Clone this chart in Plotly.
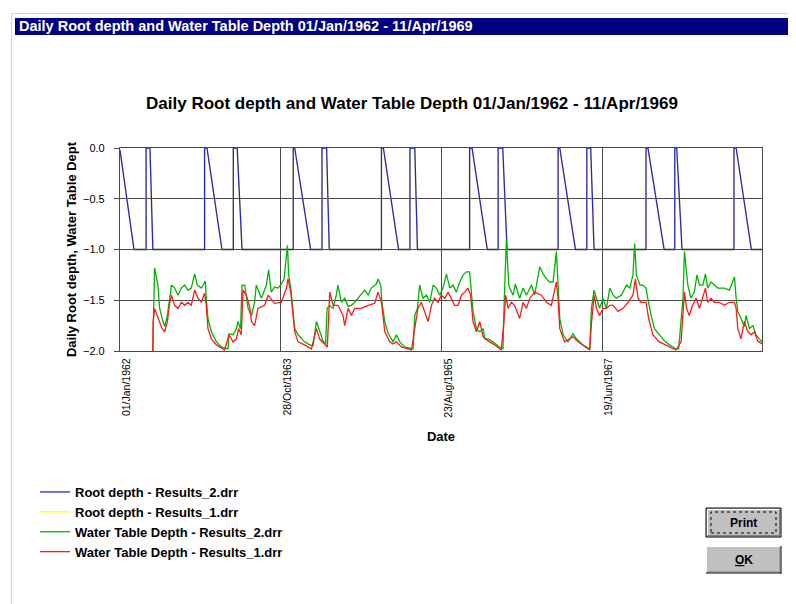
import pandas as pd
import plotly.graph_objects as go

START = "1962-01-01"
END = "1969-04-11"

# X ticks
tick_dates = ["1962-01-01", "1963-10-28", "1965-08-23", "1967-06-19"]
tick_labels = ["01/Jan/1962", "28/Oct/1963", "23/Aug/1965", "19/Jun/1967"]

# Root depth - Results_2 (days since 01/Jan/1962, metres)
root2_days = [0, 58, 108, 108, 124, 136, 350, 350, 360, 422, 469, 469, 485, 505,
              717, 717, 723, 789, 836, 836, 855, 866, 1082, 1082, 1090, 1153,
              1200, 1200, 1220, 1231, 1447, 1447, 1457, 1520, 1565, 1565, 1584, 1602,
              1813, 1813, 1820, 1885, 1932, 1932, 1948, 1962, 2177, 2177, 2185, 2252,
              2296, 2296, 2304, 2326, 2541, 2541, 2550, 2613, 2657]
root2_vals = [-0.02, -1.0, -1.0, 0.0, 0.0, -1.0, -1.0, 0.0, 0.0, -1.0, -1.0, 0.0, 0.0, -1.0,
              -1.0, 0.0, 0.0, -1.0, -1.0, 0.0, 0.0, -1.0, -1.0, 0.0, 0.0, -1.0,
              -1.0, 0.0, 0.0, -1.0, -1.0, 0.0, 0.0, -1.0, -1.0, 0.0, 0.0, -1.0,
              -1.0, 0.0, 0.0, -1.0, -1.0, 0.0, 0.0, -1.0, -1.0, 0.0, 0.0, -1.0,
              -1.0, 0.0, 0.0, -1.0, -1.0, 0.0, 0.0, -1.0, -1.0]

# Root depth - Results_1 (hidden beneath Results_2)
root1_days = list(root2_days)
root1_vals = list(root2_vals)

# Water Table Depth - Results_2
wt2_days = [136, 138, 143, 157, 164, 178, 185, 196, 206, 213, 226, 240, 254, 268, 281, 295, 309, 320, 337, 353,
            357, 364, 378, 399, 419, 447, 451, 468, 482, 488, 499, 505, 516, 523,
            530, 544, 557, 564, 585, 606, 615, 626, 640, 654, 668, 679, 693, 698, 707, 716, 723, 737, 751, 764,
            785, 799, 813, 826, 840, 851, 857, 868, 882, 895, 902, 916, 930, 944, 958, 971, 985, 999, 1013, 1027,
            1040, 1061,
            1068, 1079, 1084, 1096, 1109, 1130, 1144, 1158, 1178, 1213, 1220, 1231, 1240, 1254, 1268, 1282, 1296,
            1309, 1323, 1337, 1351, 1365, 1378, 1392, 1406, 1420, 1434, 1447, 1454, 1461, 1475, 1489, 1503, 1510,
            1523, 1544, 1565, 1585, 1590, 1599, 1609,
            1613, 1627, 1636, 1654, 1668, 1682, 1703, 1716, 1737, 1751, 1765, 1778, 1792, 1806, 1813, 1820, 1834,
            1854, 1875, 1889, 1916, 1944, 1951, 1962, 1972, 1985, 1999, 2013, 2027, 2041, 2054, 2075, 2096, 2110,
            2123, 2130, 2137, 2152,
            2163, 2177, 2184, 2198, 2212, 2232, 2253, 2274, 2301, 2312, 2318, 2326, 2330, 2336, 2343, 2350, 2363,
            2377, 2388, 2398, 2412, 2423, 2432, 2446, 2460, 2474, 2488, 2501, 2522, 2543, 2550, 2557, 2570, 2584,
            2591, 2605, 2619, 2632, 2646, 2657]
wt2_vals = [-2.0, -1.65, -1.18, -1.35, -1.58, -1.71, -1.76, -1.65, -1.45, -1.35, -1.38, -1.45, -1.38, -1.35, -1.40,
            -1.38, -1.24, -1.35, -1.38, -1.31, -1.48, -1.68, -1.81, -1.91, -1.96, -1.98, -1.83, -1.84, -1.78, -1.71,
            -1.78, -1.35, -1.35, -1.48,
            -1.58, -1.65, -1.52, -1.35, -1.48, -1.35, -1.20, -1.42, -1.37, -1.38, -1.34, -1.29, -0.96, -1.25, -1.38,
            -1.61, -1.78, -1.84, -1.88, -1.91, -1.94, -1.95, -1.71, -1.81, -1.90, -1.93, -1.58, -1.55, -1.58, -1.45,
            -1.35, -1.52, -1.48, -1.56, -1.55, -1.52, -1.48, -1.45, -1.40, -1.45, -1.38, -1.34,
            -1.29, -1.35, -1.52, -1.71, -1.82, -1.91, -1.84, -1.91, -1.96, -1.98, -1.65, -1.58, -1.35, -1.48, -1.45,
            -1.52, -1.35, -1.38, -1.45, -1.38, -1.24, -1.38, -1.35, -1.42, -1.32, -1.25, -1.22, -1.22, -1.42, -1.61,
            -1.78, -1.81, -1.78, -1.88, -1.88, -1.91, -1.95, -1.98, -1.52, -0.91, -1.35,
            -1.38, -1.45, -1.34, -1.48, -1.38, -1.45, -1.35, -1.45, -1.17, -1.24, -1.29, -1.32, -1.32, -1.02, -1.32,
            -1.68, -1.84, -1.91, -1.83, -1.88, -1.94, -1.98, -1.58, -1.40, -1.48, -1.58, -1.48, -1.58, -1.38, -1.45,
            -1.48, -1.45, -1.35, -1.38, -1.25, -0.94, -1.25, -1.35,
            -1.35, -1.38, -1.48, -1.65, -1.78, -1.84, -1.90, -1.94, -1.98, -1.98, -1.81, -1.58, -1.48, -1.02, -1.19,
            -1.35, -1.48, -1.42, -1.25, -1.35, -1.35, -1.24, -1.38, -1.32, -1.35, -1.38, -1.38, -1.38, -1.40, -1.27,
            -1.48, -1.61, -1.68, -1.76, -1.65, -1.78, -1.75, -1.84, -1.88, -1.91]

# Water Table Depth - Results_1
wt1_days = [136, 137, 143, 155, 164, 174, 185, 196, 206, 213, 226, 240, 254, 268, 281, 295, 309, 323, 337, 350,
            357, 364, 378, 399, 433, 451, 468, 482, 491, 502, 509, 523,
            538, 544, 557, 571, 599, 613, 640, 668, 689, 695, 707, 716, 723, 737, 764, 792, 813, 826, 847, 858,
            868, 882, 902, 923, 930, 944, 958, 971, 999, 1027, 1054,
            1068, 1082, 1096, 1116, 1130, 1144, 1165, 1206, 1220, 1233, 1247, 1261, 1275, 1289, 1302, 1316, 1330,
            1344, 1358, 1371, 1385, 1399, 1413, 1427, 1440, 1451, 1461, 1475, 1489, 1503, 1523, 1551, 1578, 1590,
            1596, 1606,
            1620, 1633, 1654, 1668, 1682, 1696, 1716, 1744, 1765, 1785, 1806, 1813, 1820, 1840, 1875, 1896, 1944,
            1951, 1962, 1972, 1985, 1999, 2013, 2027, 2041, 2061, 2082, 2103, 2123, 2133, 2144,
            2156, 2177, 2188, 2205, 2232, 2260, 2301, 2322, 2336, 2345, 2356, 2370, 2384, 2398, 2412, 2423, 2432,
            2446, 2460, 2481, 2501, 2522, 2543, 2550, 2557, 2570, 2584, 2598, 2612, 2626, 2639, 2657]
wt1_vals = [-2.0, -1.71, -1.58, -1.65, -1.71, -1.78, -1.81, -1.71, -1.52, -1.45, -1.55, -1.58, -1.52, -1.55, -1.52,
            -1.55, -1.40, -1.48, -1.52, -1.43, -1.55, -1.78, -1.88, -1.94, -1.99, -1.84, -1.91, -1.88, -1.78, -1.84,
            -1.40, -1.45,
            -1.58, -1.71, -1.75, -1.58, -1.55, -1.45, -1.53, -1.52, -1.38, -1.29, -1.42, -1.65, -1.81, -1.91, -1.94,
            -1.98, -1.78, -1.88, -1.94, -1.96, -1.42, -1.55, -1.55, -1.65, -1.75, -1.58, -1.65, -1.58, -1.58, -1.55,
            -1.53,
            -1.42, -1.52, -1.81, -1.91, -1.93, -1.91, -1.96, -1.99, -1.78, -1.58, -1.52, -1.61, -1.71, -1.55, -1.48,
            -1.52, -1.45, -1.48, -1.42, -1.48, -1.55, -1.55, -1.45, -1.42, -1.38, -1.45, -1.71, -1.81, -1.71, -1.86,
            -1.90, -1.94, -1.99, -1.68, -1.45, -1.58,
            -1.52, -1.55, -1.68, -1.52, -1.58, -1.48, -1.42, -1.45, -1.52, -1.55, -1.32, -1.48, -1.78, -1.91, -1.86,
            -1.91, -1.99, -1.73, -1.45, -1.58, -1.65, -1.58, -1.58, -1.55, -1.55, -1.61, -1.58, -1.52, -1.45, -1.29,
            -1.48,
            -1.52, -1.52, -1.68, -1.84, -1.91, -1.94, -1.99, -1.91, -1.42, -1.58, -1.65, -1.55, -1.48, -1.58, -1.48,
            -1.38, -1.52, -1.48, -1.52, -1.52, -1.55, -1.52, -1.52, -1.58, -1.78, -1.88, -1.71, -1.81, -1.84, -1.81,
            -1.90, -1.93]


def to_dates(days):
    return pd.Timestamp(START) + pd.to_timedelta(days, unit="D")


FONT = "Liberation Sans, Arial, sans-serif"

fig = go.Figure()
# yellow drawn first so the identical blue series covers it
fig.add_trace(go.Scatter(x=to_dates(root1_days), y=root1_vals, mode="lines",
                         name="Root depth - Results_1.drr", legendrank=2,
                         line=dict(color="#ffff00", width=1.3)))
fig.add_trace(go.Scatter(x=to_dates(root2_days), y=root2_vals, mode="lines",
                         name="Root depth - Results_2.drr", legendrank=1,
                         line=dict(color="#2323d8", width=1.3)))
fig.add_trace(go.Scatter(x=to_dates(wt2_days), y=wt2_vals, mode="lines",
                         name="Water Table Depth - Results_2.drr", legendrank=3,
                         line=dict(color="#00b400", width=1.3)))
fig.add_trace(go.Scatter(x=to_dates(wt1_days), y=wt1_vals, mode="lines",
                         name="Water Table Depth - Results_1.drr", legendrank=4,
                         line=dict(color="#ff1a1a", width=1.3)))

# page has an 8px body margin: figure origin sits at page (8, 8)
OFF = 8
FIG_W, FIG_H = 796 - OFF, 604 - OFF
# plot area in page pixels: left 120, right 762, top 148, bottom 351
L, R, T, B = 120, 762, 148, 351
W, H = R - L, B - T


def px(x):
    return (x - L) / W


def py(y):
    return (B - y) / H


def hline(x0, x1, y, color):
    return dict(type="line", xref="paper", yref="paper", x0=px(x0), x1=px(x1), y0=py(y), y1=py(y),
                line=dict(color=color, width=1))


def vline(x, y0, y1, color):
    return dict(type="line", xref="paper", yref="paper", x0=px(x), x1=px(x), y0=py(y0), y1=py(y1),
                line=dict(color=color, width=1))


shapes = []
# dialog frame and title bar
shapes.append(hline(11.5, 797, 13.5, "#d4d4d4"))
shapes.append(vline(11.5, 13.5, 605, "#d4d4d4"))
shapes.append(dict(type="rect", xref="paper", yref="paper", x0=px(15), x1=px(797), y0=py(35), y1=py(18),
                   fillcolor="#000080", line=dict(width=0), layer="below"))
# Print button
shapes.append(dict(type="rect", xref="paper", yref="paper", x0=px(706), x1=px(781), y0=py(537), y1=py(508),
                   fillcolor="#c0c0c0", line=dict(color="#000000", width=1)))
shapes.append(hline(707.5, 779.5, 509.5, "#ffffff"))
shapes.append(vline(707.5, 509.5, 535.5, "#ffffff"))
shapes.append(hline(707.5, 780, 535.5, "#808080"))
shapes.append(vline(779.5, 509.5, 535.5, "#808080"))
shapes.append(dict(type="rect", xref="paper", yref="paper", x0=px(711), x1=px(776), y0=py(533), y1=py(512),
                   line=dict(color="#000000", width=1, dash="dot")))
# OK button
shapes.append(dict(type="rect", xref="paper", yref="paper", x0=px(706), x1=px(781), y0=py(573), y1=py(546),
                   fillcolor="#c0c0c0", line=dict(width=0)))
shapes.append(hline(706, 780, 546.5, "#ffffff"))
shapes.append(vline(706.5, 546, 572, "#ffffff"))
shapes.append(hline(706, 781.5, 573, "#000000"))
shapes.append(vline(781, 546, 573.5, "#000000"))
shapes.append(hline(707, 780, 572, "#808080"))
shapes.append(vline(780, 547, 572, "#808080"))

annotations = [
    dict(text="<b>Daily Root depth and Water Table Depth 01/Jan/1962 - 11/Apr/1969</b>", xref="paper", yref="paper",
         x=px(17), y=py(26.5), xanchor="left", yanchor="middle", showarrow=False,
         font=dict(family=FONT, size=14.5, color="#ffffff")),
    dict(text="<b>Print</b>", xref="paper", yref="paper", x=px(743.5), y=py(522.5), xanchor="center",
         yanchor="middle", showarrow=False, font=dict(family=FONT, size=12, color="#000000")),
    dict(text="<b><u>O</u>K</b>", xref="paper", yref="paper", x=px(743.5), y=py(559.5), xanchor="center",
         yanchor="middle", showarrow=False, font=dict(family=FONT, size=12, color="#000000")),
]

GRID = "#4a4a4a"
fig.update_layout(
    width=FIG_W, height=FIG_H,
    paper_bgcolor="#ffffff", plot_bgcolor="#ffffff",
    margin=dict(l=L - OFF, r=FIG_W - (R - OFF), t=T - OFF, b=FIG_H - (B - OFF), autoexpand=False),
    font=dict(family=FONT, size=11, color="#000000"),
    title=dict(text="<b>Daily Root depth and Water Table Depth 01/Jan/1962 - 11/Apr/1969</b>",
               xref="container", yref="container", x=(412 - OFF) / FIG_W, y=1 - (103 - OFF) / FIG_H,
               xanchor="center", yanchor="middle",
               font=dict(family=FONT, size=17, color="#000000")),
    xaxis=dict(type="date", range=[START, END], tickvals=tick_dates, ticktext=tick_labels,
               tickangle=-90, ticks="", showgrid=True, gridcolor=GRID, gridwidth=1.2,
               showline=True, linecolor=GRID, linewidth=1.2, mirror=True, zeroline=False,
               tickfont=dict(family=FONT, size=10.5), ticklabelshift=7, ticklabelstandoff=2,
               title=dict(text="<b>Date</b>", font=dict(family=FONT, size=13), standoff=15)),
    yaxis=dict(range=[-2, 0], dtick=0.5, tick0=0, tickformat=".1f", ticks="outside", ticklen=5,
               tickcolor=GRID, showgrid=True, gridcolor=GRID, gridwidth=1.2,
               showline=True, linecolor=GRID, linewidth=1.2, mirror=True, zeroline=False,
               tickfont=dict(family=FONT, size=11), ticklabelstandoff=7,
               title=dict(text="<b>Daily Root depth, Water Table Dept</b>", font=dict(family=FONT, size=13),
                          standoff=3)),
    legend=dict(x=px(35), y=py(477), xanchor="left", yanchor="top", orientation="v",
                bgcolor="rgba(0,0,0,0)", borderwidth=0, traceorder="normal",
                font=dict(family=FONT, size=13, color="#000000", weight="bold")),
    showlegend=True,
    shapes=shapes,
    annotations=annotations,
    hovermode=False,
)

fig.write_html("out.html")
